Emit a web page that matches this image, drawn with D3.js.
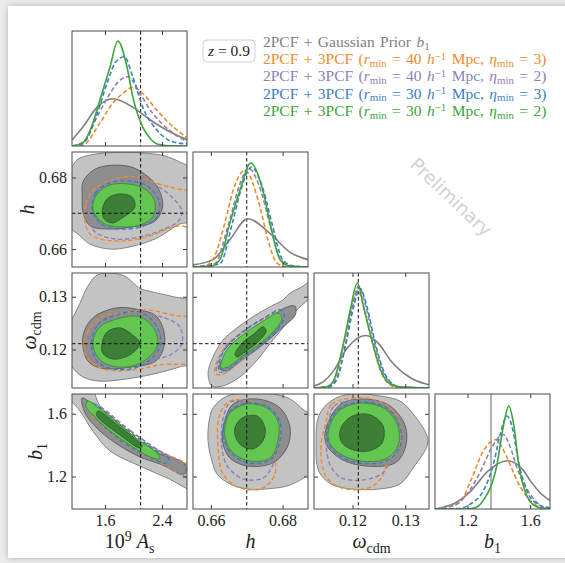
<!DOCTYPE html>
<html>
<head>
<meta charset="utf-8">
<script src="https://cdn.jsdelivr.net/npm/d3@7"></script>
<style>
  body { margin: 0; background: #fff; }
  svg { display: block; }
  .serif { font-family: "Liberation Serif", "Times New Roman", serif; }
</style>
</head>
<body>
<script>
// ---------- data ----------
var domAs = [1.137, 2.751], domH = [0.655, 0.6871], domOm = [0.1127, 0.1345], domB1 = [0.993, 1.726];
var tickAs = [1.6, 2.4], tickH = [0.66, 0.68], tickOm = [0.12, 0.13], tickB1 = [1.2, 1.6];
var truthAs = 2.1, truthH = 0.670, truthOm = 0.1211, priorB1 = 1.35;

var seriesNames = ["gray", "orange", "purple", "blue", "green"];
var seriesColors = ["#7f7f7f", "#ef8a2c", "#8d80b5", "#3b7fc0", "#3ba53a"];

// 1D marginals, [value, relative density], order = seriesNames
var margAs = [
  [[1.14,0.06],[1.29,0.18],[1.49,0.37],[1.71,0.45],[1.99,0.37],[2.23,0.25],[2.47,0.15],[2.75,0.06]],
  [[1.14,0],[1.29,0.01],[1.53,0.22],[1.71,0.41],[1.85,0.5],[1.99,0.56],[2.13,0.5],[2.33,0.34],[2.56,0.18],[2.75,0.08]],
  [[1.14,0],[1.3,0.04],[1.49,0.28],[1.67,0.5],[1.8,0.62],[1.92,0.66],[2.09,0.5],[2.27,0.31],[2.42,0.2],[2.56,0.12],[2.75,0.04]],
  [[1.14,0],[1.3,0.03],[1.49,0.31],[1.63,0.6],[1.75,0.8],[1.87,0.85],[1.99,0.66],[2.13,0.37],[2.33,0.15],[2.55,0.04],[2.75,0.02]],
  [[1.14,0],[1.29,0.03],[1.42,0.2],[1.53,0.44],[1.67,0.75],[1.78,1.0],[1.91,0.75],[1.99,0.47],[2.13,0.18],[2.25,0.06],[2.33,0.02],[2.55,0],[2.75,0]]
];
var margH = [
  [[0.655,0.02],[0.6606,0.07],[0.6653,0.26],[0.6703,0.46],[0.6765,0.32],[0.6821,0.14],[0.6871,0.07]],
  [[0.655,0],[0.659,0.02],[0.661,0.1],[0.6639,0.42],[0.6662,0.73],[0.6695,0.92],[0.6737,0.57],[0.6759,0.26],[0.6784,0.04],[0.681,0],[0.687,0]],
  [[0.655,0],[0.661,0.03],[0.665,0.42],[0.668,0.78],[0.6705,0.94],[0.674,0.72],[0.6765,0.4],[0.6795,0.07],[0.683,0],[0.687,0]],
  [[0.655,0],[0.6625,0.03],[0.666,0.42],[0.6685,0.75],[0.6713,0.95],[0.6745,0.75],[0.677,0.42],[0.680,0.07],[0.683,0.01],[0.687,0]],
  [[0.655,0],[0.660,0.01],[0.6625,0.07],[0.6653,0.42],[0.6681,0.73],[0.6711,0.99],[0.6745,0.73],[0.6765,0.42],[0.6793,0.07],[0.682,0.01],[0.687,0]]
];
var margOm = [
  [[0.1127,0.02],[0.1145,0.06],[0.1165,0.17],[0.119,0.38],[0.1225,0.5],[0.125,0.42],[0.1271,0.27],[0.1309,0.1],[0.1345,0.03]],
  [[0.1127,0],[0.1155,0.02],[0.1168,0.1],[0.1185,0.45],[0.1198,0.75],[0.121,0.93],[0.1223,0.73],[0.1238,0.42],[0.1255,0.14],[0.1271,0.03],[0.129,0],[0.1345,0]],
  [[0.1127,0],[0.1155,0.01],[0.1169,0.08],[0.1187,0.43],[0.1199,0.76],[0.1212,0.97],[0.1225,0.78],[0.1241,0.43],[0.1258,0.15],[0.1274,0.04],[0.129,0.01],[0.1345,0]],
  [[0.1127,0],[0.1155,0.01],[0.117,0.08],[0.1188,0.43],[0.1201,0.75],[0.1214,0.95],[0.1227,0.78],[0.1243,0.43],[0.126,0.15],[0.1276,0.04],[0.129,0.01],[0.1345,0]],
  [[0.1127,0],[0.1150,0.01],[0.1163,0.06],[0.1183,0.43],[0.1196,0.75],[0.1209,1.0],[0.1222,0.75],[0.1238,0.43],[0.1255,0.15],[0.1271,0.04],[0.129,0.01],[0.1345,0]]
];
var margB1 = [
  [[0.993,0],[1.05,0.02],[1.113,0.05],[1.221,0.17],[1.33,0.36],[1.452,0.46],[1.55,0.38],[1.6,0.27],[1.66,0.16],[1.726,0.08]],
  [[0.993,0],[1.1,0.03],[1.16,0.08],[1.221,0.27],[1.3,0.55],[1.379,0.66],[1.452,0.49],[1.516,0.27],[1.6,0.08],[1.68,0.01],[1.726,0]],
  [[0.993,0],[1.08,0.02],[1.136,0.05],[1.21,0.17],[1.284,0.36],[1.36,0.6],[1.429,0.71],[1.47,0.6],[1.516,0.39],[1.6,0.14],[1.68,0.02],[1.726,0]],
  [[0.993,0],[1.15,0.005],[1.221,0.05],[1.3,0.17],[1.366,0.43],[1.41,0.72],[1.452,0.885],[1.49,0.75],[1.524,0.46],[1.58,0.17],[1.644,0.05],[1.726,0.01]],
  [[0.993,0],[1.2,0],[1.26,0.02],[1.3,0.08],[1.389,0.43],[1.43,0.8],[1.463,0.98],[1.495,0.8],[1.526,0.43],[1.58,0.12],[1.62,0.04],[1.68,0.005],[1.726,0]]
];

// 2D contours [x, y]: go/gi = gray 95/68, gro/gri = green 95/68, or/pu/bl = dashed 95
var contAsH = {
  go: [[1.06,0.6800],[1.137,0.6830],[1.22,0.6851],[1.46,0.6865],[1.81,0.6870],[2.16,0.6868],[2.44,0.6860],[2.65,0.6843],[2.85,0.6818],[2.85,0.6680],[2.65,0.6670],[2.45,0.6645],[2.30,0.6628],[1.95,0.6606],[1.67,0.6600],[1.39,0.6614],[1.22,0.6642],[1.06,0.6670]],
  gi: [[1.29,0.6787],[1.42,0.6818],[1.60,0.6832],[1.91,0.6832],[2.09,0.6818],[2.33,0.6776],[2.41,0.6720],[2.30,0.6678],[1.99,0.6662],[1.67,0.6656],[1.39,0.6665],[1.29,0.6704],[1.28,0.6748]],
  or: [[1.32,0.6676],[1.33,0.6726],[1.46,0.6768],[1.74,0.6796],[2.09,0.6801],[2.27,0.6787],[2.61,0.6768],[2.82,0.6757],[2.82,0.6662],[2.65,0.6665],[2.47,0.6656],[2.23,0.6637],[1.91,0.6623],[1.53,0.6628],[1.39,0.6642]],
  pu: [[1.36,0.6684],[1.39,0.6740],[1.60,0.6782],[1.95,0.6796],[2.30,0.6779],[2.54,0.6745],[2.68,0.6706],[2.63,0.6678],[2.37,0.6651],[2.09,0.6634],[1.74,0.6628],[1.46,0.6648]],
  bl: [[1.42,0.6712],[1.47,0.6757],[1.67,0.6785],[1.95,0.6790],[2.20,0.6775],[2.36,0.6735],[2.33,0.6690],[2.12,0.6663],[1.81,0.6656],[1.56,0.6668]],
  gro: [[1.43,0.6712],[1.49,0.6754],[1.67,0.6779],[1.92,0.6782],[2.16,0.6768],[2.30,0.6732],[2.27,0.6690],[2.09,0.6667],[1.81,0.6662],[1.57,0.6673]],
  gri: [[1.56,0.6706],[1.63,0.6740],[1.81,0.6754],[1.98,0.6745],[2.02,0.6718],[1.88,0.6692],[1.70,0.6673],[1.59,0.6684]]
};
var contAsOm = {
  go: [[1.08,0.1237],[1.25,0.1288],[1.35,0.1318],[1.49,0.1341],[1.67,0.1345],[1.88,0.1339],[2.09,0.1316],[2.27,0.1309],[2.56,0.1300],[2.85,0.1288],[2.85,0.1176],[2.65,0.1167],[2.33,0.1155],[1.99,0.1146],[1.53,0.1140],[1.29,0.1148],[1.14,0.1167],[1.05,0.1199]],
  gi: [[1.29,0.1224],[1.43,0.1260],[1.77,0.1279],[2.09,0.1275],[2.33,0.1262],[2.44,0.1218],[2.33,0.1180],[1.99,0.1167],[1.53,0.1165],[1.35,0.1180]],
  or: [[1.32,0.1193],[1.35,0.1231],[1.53,0.1260],[1.91,0.1271],[2.19,0.1275],[2.56,0.1265],[2.85,0.1256],[2.85,0.1180],[2.37,0.1171],[1.99,0.1161],[1.53,0.1165]],
  pu: [[1.36,0.1199],[1.42,0.1237],[1.67,0.1260],[2.09,0.1267],[2.44,0.1260],[2.65,0.1243],[2.68,0.1212],[2.56,0.1193],[2.27,0.1180],[1.81,0.1169],[1.46,0.1176]],
  bl: [[1.41,0.1212],[1.50,0.1247],[1.77,0.1266],[2.09,0.1271],[2.33,0.1243],[2.37,0.1205],[2.12,0.1170],[1.77,0.1162],[1.50,0.1176]],
  gro: [[1.43,0.1212],[1.53,0.1243],[1.77,0.1258],[2.09,0.1262],[2.30,0.1237],[2.33,0.1205],[2.09,0.1174],[1.77,0.1167],[1.53,0.1180]],
  gri: [[1.56,0.1212],[1.63,0.1233],[1.81,0.1241],[1.99,0.1227],[2.09,0.1212],[1.95,0.1190],[1.71,0.1182],[1.57,0.1193]]
};
var contAsB1 = {
  go: [[1.08,1.78],[1.39,1.78],[1.53,1.65],[1.81,1.535],[2.09,1.427],[2.37,1.363],[2.85,1.229],[2.85,1.115],[2.47,1.191],[2.09,1.267],[1.67,1.363],[1.43,1.49],[1.25,1.618],[1.08,1.713]],
  gi: [[1.28,1.70],[1.53,1.618],[1.81,1.509],[2.09,1.408],[2.37,1.344],[2.72,1.28],[2.72,1.216],[2.37,1.28],[2.09,1.325],[1.81,1.395],[1.53,1.49],[1.32,1.605]],
  or: [[1.46,1.65],[1.95,1.49],[2.37,1.363],[2.85,1.248],[2.85,1.185],[2.37,1.287],[1.95,1.395],[1.53,1.535],[1.39,1.618]],
  pu: [[1.45,1.66],[1.95,1.495],[2.37,1.36],[2.75,1.25],[2.75,1.2],[2.37,1.29],[1.95,1.40],[1.53,1.54],[1.40,1.62]],
  bl: [[1.40,1.67],[1.9,1.50],[2.3,1.37],[2.5,1.31],[2.45,1.285],[2.2,1.33],[1.85,1.42],[1.5,1.56],[1.38,1.64]],
  gro: [[1.36,1.681],[1.53,1.63],[1.81,1.528],[2.09,1.427],[2.33,1.35],[2.37,1.312],[2.23,1.325],[1.95,1.401],[1.67,1.49],[1.43,1.592],[1.33,1.65]],
  gri: [[1.50,1.618],[1.81,1.516],[2.09,1.414],[2.12,1.395],[2.09,1.382],[1.81,1.465],[1.52,1.567],[1.48,1.595]]
};
var contHOm = {
  go: [[0.6592,0.1155],[0.6606,0.1186],[0.6634,0.1218],[0.6673,0.1241],[0.6717,0.1262],[0.6765,0.1281],[0.6801,0.1294],[0.6821,0.1307],[0.6849,0.1317],[0.6890,0.1332],[0.6890,0.1309],[0.6840,0.1275],[0.6812,0.1250],[0.6773,0.1218],[0.6729,0.1180],[0.6681,0.1148],[0.6634,0.1131],[0.6603,0.1131]],
  gi: [[0.6625,0.1171],[0.6648,0.1195],[0.6695,0.1222],[0.6751,0.1252],[0.6807,0.1279],[0.6835,0.1282],[0.6835,0.1265],[0.6798,0.1241],[0.6743,0.1208],[0.6687,0.1180],[0.6648,0.1161],[0.6628,0.1161]],
  or: [[0.6615,0.1175],[0.6640,0.1205],[0.6690,0.1235],[0.6750,0.1258],[0.6790,0.1268],[0.6795,0.1255],[0.6770,0.1232],[0.6720,0.1200],[0.6670,0.1170],[0.6630,0.1152],[0.6612,0.1155]],
  pu: [[0.6620,0.1177],[0.6643,0.1205],[0.6692,0.1235],[0.6750,0.1260],[0.6792,0.1272],[0.6800,0.1258],[0.6775,0.1233],[0.6725,0.1202],[0.6675,0.1175],[0.6638,0.1157],[0.6616,0.1159]],
  bl: [[0.6625,0.1180],[0.6645,0.1206],[0.6695,0.1236],[0.6751,0.1261],[0.6795,0.1275],[0.6805,0.1262],[0.6782,0.1235],[0.6731,0.1204],[0.6681,0.1180],[0.6645,0.1161],[0.6622,0.1163]],
  gro: [[0.6631,0.1180],[0.6648,0.1203],[0.6695,0.1231],[0.6751,0.1256],[0.6787,0.1269],[0.6798,0.1260],[0.6779,0.1237],[0.6731,0.1208],[0.6681,0.1184],[0.6648,0.1167],[0.6628,0.1165]],
  gri: [[0.6667,0.1190],[0.6687,0.1212],[0.6723,0.1231],[0.6745,0.1243],[0.6754,0.1235],[0.6731,0.1214],[0.6695,0.1195],[0.6673,0.1186]]
};
var contHB1 = {
  go: [[0.6595,1.554],[0.6606,1.637],[0.6645,1.713],[0.6701,1.73],[0.6773,1.726],[0.6821,1.694],[0.6862,1.62],[0.6890,1.58],[0.6890,1.267],[0.6829,1.153],[0.6756,1.121],[0.6701,1.121],[0.6653,1.153],[0.6617,1.216],[0.6603,1.299],[0.6592,1.427]],
  gi: [[0.6634,1.509],[0.6662,1.662],[0.6729,1.694],[0.6793,1.637],[0.6821,1.509],[0.6812,1.382],[0.6773,1.287],[0.6701,1.267],[0.6653,1.318],[0.6634,1.408]],
  or: [[0.6653,1.681],[0.6625,1.599],[0.6620,1.382],[0.6634,1.216],[0.6681,1.127],[0.6745,1.127],[0.6779,1.216],[0.6779,1.344],[0.6793,1.49],[0.6765,1.618],[0.6701,1.681]],
  pu: [[0.6655,1.675],[0.6635,1.58],[0.6630,1.40],[0.6645,1.27],[0.6690,1.185],[0.6745,1.19],[0.6770,1.26],[0.6785,1.38],[0.6792,1.50],[0.6765,1.62],[0.6705,1.675]],
  bl: [[0.6635,1.51],[0.6650,1.61],[0.6701,1.668],[0.6758,1.645],[0.6792,1.554],[0.6792,1.42],[0.6768,1.31],[0.6709,1.285],[0.6660,1.34],[0.6638,1.427]],
  gro: [[0.6639,1.509],[0.6653,1.605],[0.6701,1.662],[0.6756,1.637],[0.6787,1.554],[0.6787,1.427],[0.6765,1.318],[0.6709,1.299],[0.6662,1.35],[0.6642,1.427]],
  gri: [[0.6667,1.509],[0.6687,1.573],[0.6729,1.586],[0.6751,1.509],[0.6745,1.427],[0.6717,1.376],[0.6687,1.395],[0.6670,1.446]]
};
var contOmB1 = {
  go: [[0.1159,1.681],[0.1196,1.726],[0.1253,1.713],[0.1290,1.681],[0.1315,1.599],[0.1343,1.427],[0.1315,1.255],[0.1290,1.153],[0.1253,1.121],[0.1196,1.121],[0.1159,1.153],[0.1136,1.235],[0.1131,1.427],[0.1136,1.586]],
  gi: [[0.1150,1.509],[0.1178,1.662],[0.1225,1.694],[0.1271,1.650],[0.1300,1.522],[0.1300,1.382],[0.1281,1.287],[0.1225,1.267],[0.1178,1.312],[0.1150,1.408]],
  or: [[0.1150,1.55],[0.1160,1.66],[0.1200,1.70],[0.1250,1.68],[0.1285,1.58],[0.1290,1.42],[0.1268,1.30],[0.1252,1.18],[0.1230,1.127],[0.1180,1.127],[0.1150,1.20],[0.1140,1.38]],
  pu: [[0.1155,1.55],[0.1165,1.65],[0.1205,1.685],[0.1255,1.66],[0.1285,1.56],[0.1288,1.42],[0.1272,1.30],[0.1256,1.22],[0.1225,1.18],[0.1180,1.19],[0.1158,1.27],[0.1150,1.42]],
  bl: [[0.1152,1.50],[0.1172,1.625],[0.1215,1.675],[0.1265,1.638],[0.1290,1.52],[0.1290,1.39],[0.1265,1.30],[0.1215,1.285],[0.1172,1.34],[0.1152,1.43]],
  gro: [[0.1155,1.503],[0.1174,1.618],[0.1215,1.669],[0.1262,1.63],[0.1286,1.522],[0.1286,1.395],[0.1262,1.312],[0.1215,1.299],[0.1174,1.35],[0.1155,1.427]],
  gri: [[0.1178,1.509],[0.1200,1.586],[0.1234,1.592],[0.1258,1.522],[0.1256,1.414],[0.1230,1.363],[0.1196,1.376],[0.1178,1.427]]
};

var legendLines = [
  [["2PCF + Gaussian Prior "], ["b", "i"], ["1", "sub"]],
  [["2PCF + 3PCF ("], ["r", "i"], ["min", "sub"], [" = 40 "], ["h", "i"], ["\u22121", "sup"], [" Mpc, "], ["\u03b7", "i"], ["min", "sub"], [" = 3)"]],
  [["2PCF + 3PCF ("], ["r", "i"], ["min", "sub"], [" = 40 "], ["h", "i"], ["\u22121", "sup"], [" Mpc, "], ["\u03b7", "i"], ["min", "sub"], [" = 2)"]],
  [["2PCF + 3PCF ("], ["r", "i"], ["min", "sub"], [" = 30 "], ["h", "i"], ["\u22121", "sup"], [" Mpc, "], ["\u03b7", "i"], ["min", "sub"], [" = 3)"]],
  [["2PCF + 3PCF ("], ["r", "i"], ["min", "sub"], [" = 30 "], ["h", "i"], ["\u22121", "sup"], [" Mpc, "], ["\u03b7", "i"], ["min", "sub"], [" = 2)"]]
];
var axisLabels = [
  [["10"], ["9", "sup"], [" "], ["A", "i"], ["s", "sub"]],
  [["h", "i"]],
  [["\u03c9", "i"], ["cdm", "sub"]],
  [["b", "i"], ["1", "sub"]]
];

// ---------- layout ----------
var P = 115;
var colX = [72, 193, 314, 435], rowY = [31, 152, 273, 394];
var doms = [domAs, domH, domOm, domB1];
var ticks = [tickAs, tickH, tickOm, tickB1];
var truths = [truthAs, truthH, truthOm];
var margs = [margAs, margH, margOm, margB1];

var xs = doms.map(function (d) { return d3.scaleLinear().domain(d).range([0, P]); });
var ys = doms.map(function (d) { return d3.scaleLinear().domain(d).range([P, 0]); });
var yMarg = d3.scaleLinear().domain([0, 1.095]).range([P, 0]);

var svg = d3.select("body").append("svg").attr("width", 565).attr("height", 563);

// page look
svg.append("rect").attr("width", 565).attr("height", 563).attr("fill", "#ececec");
svg.append("rect").attr("x", 8).attr("y", 6).attr("width", 600).attr("height", 552)
  .attr("fill", "#fff").style("filter", "drop-shadow(0 0 3px rgba(0,0,0,0.25))");

var defs = svg.append("defs");

// rich text helper (italic, sub, sup)
function rich(sel, parts, fs, subK, supK) {
  var shift = 0;
  parts.forEach(function (p) {
    var s = p[1] || "";
    var target = s === "sub" ? subK * fs : s === "sup" ? -supK * fs : 0;
    var ts = sel.append("tspan").text(p[0]).attr("dy", target - shift);
    shift = target;
    if (s === "i") ts.style("font-style", "italic");
    if (s === "sub" || s === "sup") ts.style("font-size", (fs * 0.7) + "px");
  });
}

function frameAxes(g, xi, yi, showX, showY, diag) {
  g.append("g").attr("transform", "translate(0," + P + ")")
    .call(d3.axisBottom(xs[xi]).tickValues(ticks[xi]).tickSize(-4).tickPadding(6)
      .tickFormat(showX ? d3.format(xi === 0 || xi === 3 ? ".1f" : ".2f") : ""));
  g.append("g").call(d3.axisTop(xs[xi]).tickValues(ticks[xi]).tickSize(-4).tickFormat(""));
  if (!diag) {
    g.append("g").call(d3.axisLeft(ys[yi]).tickValues(ticks[yi]).tickSize(-4).tickPadding(5)
      .tickFormat(showY ? d3.format(yi === 3 ? ".1f" : ".2f") : ""));
    g.append("g").attr("transform", "translate(" + P + ",0)")
      .call(d3.axisRight(ys[yi]).tickValues(ticks[yi]).tickSize(-4).tickFormat(""));
  }
  g.selectAll(".domain").remove();
  g.selectAll(".tick line").attr("stroke", "#3a3a3a").attr("stroke-width", 1);
  g.selectAll(".tick text").attr("class", "serif").attr("font-family", null)
    .style("font-size", "16px").attr("fill", "#222");
  g.append("rect").attr("width", P).attr("height", P).attr("fill", "none")
    .attr("stroke", "#4a4a4a").attr("stroke-width", 1);
}

function panelGroup(c, r) {
  var g = svg.append("g").attr("transform", "translate(" + colX[c] + "," + rowY[r] + ")");
  var id = "clip" + c + r;
  defs.append("clipPath").attr("id", id).append("rect").attr("width", P).attr("height", P);
  var inner = g.append("g").attr("clip-path", "url(#" + id + ")");
  return { g: g, inner: inner };
}

// ---------- diagonal panels ----------
margs.forEach(function (m, i) {
  var pg = panelGroup(i, i);
  var line = d3.line()
    .x(function (d) { return xs[i](d[0]); })
    .y(function (d) { return yMarg(d[1]); })
    .curve(d3.curveMonotoneX);
  if (i < 3) {
    pg.inner.append("line").attr("x1", xs[i](truths[i])).attr("x2", xs[i](truths[i]))
      .attr("y1", 0).attr("y2", P).attr("stroke", "#111").attr("stroke-width", 1).attr("stroke-dasharray", "3.5,2.5");
  } else {
    pg.inner.append("line").attr("x1", xs[i](priorB1)).attr("x2", xs[i](priorB1))
      .attr("y1", 0).attr("y2", P).attr("stroke", "#888").attr("stroke-width", 1.3);
  }
  m.forEach(function (s, k) {
    pg.inner.append("path").datum(s).attr("d", line).attr("fill", "none")
      .attr("stroke", seriesColors[k]).attr("stroke-width", 1.6)
      .attr("stroke-dasharray", (k === 0 || k === 4) ? null : "4.5,2.5");
  });
  frameAxes(pg.g, i, i, i === 3, false, true);
});

// ---------- 2D panels ----------
var panels2d = [
  { c: 0, r: 1, d: contAsH },
  { c: 0, r: 2, d: contAsOm },
  { c: 1, r: 2, d: contHOm },
  { c: 0, r: 3, d: contAsB1 },
  { c: 1, r: 3, d: contHB1 },
  { c: 2, r: 3, d: contOmB1 }
];

panels2d.forEach(function (p) {
  var pg = panelGroup(p.c, p.r);
  var shape = d3.line()
    .x(function (d) { return xs[p.c](d[0]); })
    .y(function (d) { return ys[p.r](d[1]); })
    .curve(d3.curveCatmullRomClosed.alpha(0.5));
  function fill(key, col, edge) {
    pg.inner.append("path").datum(p.d[key]).attr("d", shape)
      .attr("fill", col).attr("stroke", edge).attr("stroke-width", 0.9);
  }
  function dash(key, col) {
    pg.inner.append("path").datum(p.d[key]).attr("d", shape)
      .attr("fill", "none").attr("stroke", col).attr("stroke-width", 1.4).attr("stroke-dasharray", "4.5,2.5");
  }
  fill("go", "#c3c3c3", "#7a7a7a");
  fill("gi", "#8e8e8e", "#5a5a5a");
  dash("or", seriesColors[1]);
  dash("pu", seriesColors[2]);
  dash("bl", seriesColors[3]);
  fill("gro", "#63c650", "#3b8a35");
  fill("gri", "#3e7f37", "#2c5e28");

  pg.inner.append("line").attr("x1", xs[p.c](truths[p.c])).attr("x2", xs[p.c](truths[p.c]))
    .attr("y1", 0).attr("y2", P).attr("stroke", "#111").attr("stroke-width", 1).attr("stroke-dasharray", "3.5,2.5");
  if (p.r < 3) {
    pg.inner.append("line").attr("y1", ys[p.r](truths[p.r])).attr("y2", ys[p.r](truths[p.r]))
      .attr("x1", 0).attr("x2", P).attr("stroke", "#111").attr("stroke-width", 1).attr("stroke-dasharray", "3.5,2.5");
  }
  frameAxes(pg.g, p.c, p.r, p.r === 3, p.c === 0, false);
});

// ---------- axis labels ----------
axisLabels.forEach(function (lab, i) {
  var t = svg.append("text").attr("class", "serif").attr("x", colX[i] + P / 2).attr("y", 548)
    .attr("text-anchor", "middle").style("font-size", "20px").attr("fill", "#222");
  rich(t, lab, 20, 0.25, 0.36);
});
var yLabX = [null, 34, 36, 42];
[1, 2, 3].forEach(function (i) {
  var t = svg.append("text").attr("class", "serif")
    .attr("transform", "translate(" + yLabX[i] + "," + (rowY[i] + P / 2) + ") rotate(-90)")
    .attr("text-anchor", "middle").style("font-size", "20px").attr("fill", "#222");
  rich(t, axisLabels[i], 20, 0.25, 0.36);
});

// ---------- legend ----------
svg.append("rect").attr("x", 203).attr("y", 40).attr("width", 52).attr("height", 22).attr("rx", 4)
  .attr("fill", "#fff").attr("stroke", "#cfcfcf").attr("stroke-width", 1);
var zt = svg.append("text").attr("class", "serif").attr("x", 229).attr("y", 56).attr("text-anchor", "middle")
  .style("font-size", "15.5px").attr("fill", "#222");
rich(zt, [["z", "i"], [" = 0.9"]], 15.5, 0, 0);

legendLines.forEach(function (parts, k) {
  var t = svg.append("text").attr("class", "serif").attr("x", 263).attr("y", 47 + k * 17.2)
    .style("font-size", "15.5px").style("word-spacing", "1.5px").attr("fill", seriesColors[k]);
  rich(t, parts, 15.5, 0.18, 0.3);
});

// watermark
svg.append("text").attr("transform", "translate(451,197) rotate(43.5)")
  .attr("text-anchor", "middle").attr("dy", "0.35em")
  .attr("font-family", "'DejaVu Sans', sans-serif").attr("font-size", 18.5)
  .attr("fill", "#d2d2d2").text("Preliminary");
</script>
</body>
</html>
